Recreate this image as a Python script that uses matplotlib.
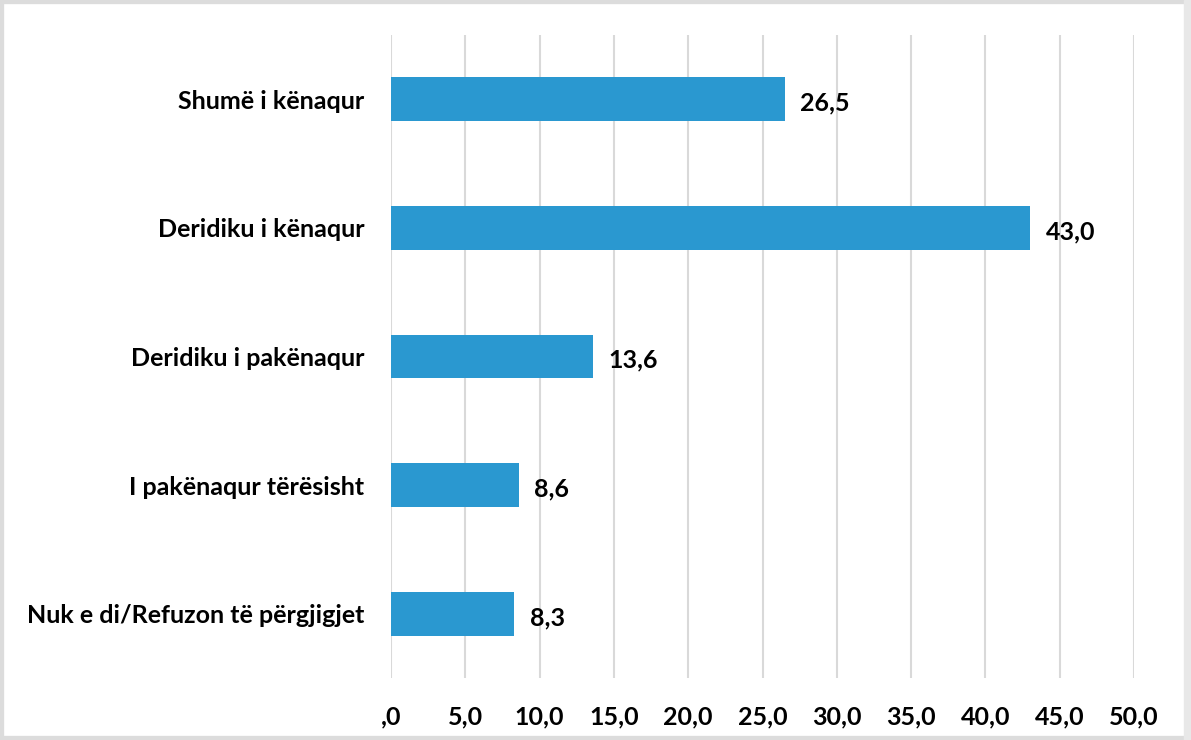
import matplotlib.pyplot as plt
from matplotlib.patches import Rectangle

categories = ['Shumë i kënaqur', 'Deridiku i kënaqur', 'Deridiku i pakënaqur',
              'I pakënaqur tërësisht', 'Nuk e di/Refuzon të përgjigjet']
values = [26.5, 43.0, 13.6, 8.6, 8.3]
ticks = [0, 5, 10, 15, 20, 25, 30, 35, 40, 45, 50]
tick_labels = [',0', '5,0', '10,0', '15,0', '20,0', '25,0', '30,0', '35,0', '40,0', '45,0', '50,0']

plt.rcParams['font.family'] = ['Lato', 'DejaVu Sans']

fig = plt.figure(figsize=(11.91, 7.40), dpi=100)
ax = fig.add_axes([391 / 1191, 1 - 678 / 740, (1134 - 391) / 1191, (678 - 35) / 740])

y = list(range(len(categories)))
ax.barh(y, values, height=0.34, color='#2A98D0', zorder=3)
ax.set_ylim(len(categories) - 0.5, -0.5)
ax.set_xlim(0, 50)

for yi, v in zip(y, values):
    ax.text(v + 1.05, yi + 0.03, f'{v:.1f}'.replace('.', ','), va='center', ha='left',
            fontsize=18, fontweight='bold', color='#000000')

ax.set_yticks(y)
ax.set_yticklabels(categories, fontsize=18, fontweight='bold', color='#000000')
ax.set_xticks(ticks)
ax.set_xticklabels(tick_labels, fontsize=18, fontweight='bold', color='#000000')
ax.tick_params(axis='both', length=0)
ax.tick_params(axis='y', pad=19)
ax.tick_params(axis='x', pad=20)

ax.grid(axis='x', color='#D9D9D9', linewidth=1.5, zorder=0)
for s in ax.spines.values():
    s.set_visible(False)

# outer frame like the screenshot
fig.patches.append(Rectangle((0, 0), 1, 1, transform=fig.transFigure, fill=False,
                             edgecolor='#DCDCDC', linewidth=6))
fig.patches.append(Rectangle((1184 / 1191, 0), 7 / 1191, 1, transform=fig.transFigure,
                             color='#E8E8E8'))

fig.savefig('out.png', dpi=100)
